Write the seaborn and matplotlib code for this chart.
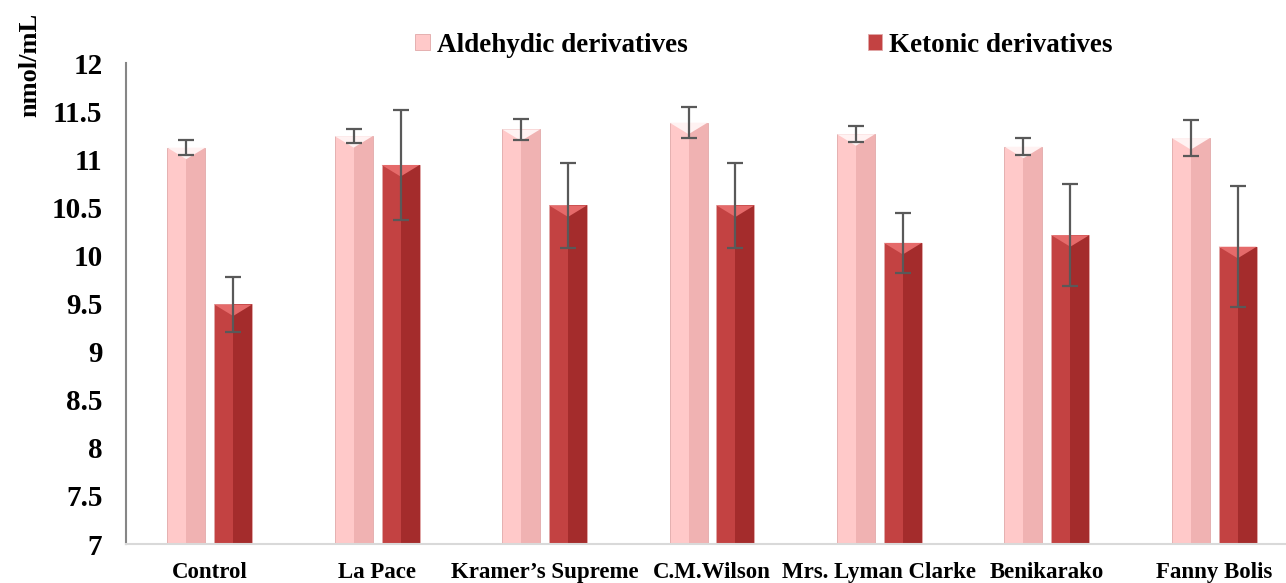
import numpy as np
import pandas as pd
import seaborn as sns
import matplotlib.pyplot as plt
from matplotlib.patches import Rectangle, Polygon

# data
groups = ["Control", "La Pace", "Kramer\u2019s Supreme", "C.M.Wilson",
          "Mrs. Lyman Clarke", "Benikarako", "Fanny Bolis"]
aldehydic = [11.12, 11.24, 11.31, 11.38, 11.26, 11.13, 11.22]
aldehydic_err = [0.075, 0.07, 0.11, 0.16, 0.08, 0.09, 0.19]
ketonic = [9.49, 10.94, 10.52, 10.52, 10.13, 10.21, 10.09]
ketonic_err = [0.29, 0.57, 0.44, 0.44, 0.31, 0.53, 0.63]
series = ["Aldehydic derivatives", "Ketonic derivatives"]
yticks = [7, 7.5, 8, 8.5, 9, 9.5, 10, 10.5, 11, 11.5, 12]

df = pd.DataFrame({
    "group": groups * 2,
    "series": [series[0]] * len(groups) + [series[1]] * len(groups),
    "value": aldehydic + ketonic,
})

sns.set_style("white")
plt.rcParams["font.family"] = ["Liberation Serif", "DejaVu Serif"]
plt.rcParams["font.weight"] = "bold"
plt.rcParams["text.color"] = "black"
plt.rcParams["xtick.color"] = "black"
plt.rcParams["ytick.color"] = "black"

face = {series[0]: "#FFC9C9", series[1]: "#C34242"}
shade = {series[0]: "#F0B2B2", series[1]: "#A42C2C"}
top = {series[0]: "#FFF2F2", series[1]: "#E56A6A"}

fig = plt.figure(figsize=(12.86, 5.83), dpi=100)
ax = fig.add_axes([126 / 1286, 39 / 583, 1172 / 1286, 481 / 583])

sns.barplot(data=df, x="group", y="value", hue="series", palette=face,
            saturation=1, width=0.56, gap=0.19, errorbar=None, ax=ax,
            zorder=2, edgecolor="#E0A8A8", linewidth=0.6)

# fake bevelled look: darker right half and a chevron at the top
errs = [aldehydic_err, ketonic_err]
for cont, name, err in zip(ax.containers, series, errs):
    xs, hs = [], []
    for p in cont.patches:
        x0, w, h = p.get_x(), p.get_width(), p.get_height()
        ax.add_patch(Rectangle((x0 + w / 2, 7), w / 2, h - 7,
                               color=shade[name], lw=0, zorder=2.1))
        d = 0.12
        ax.add_patch(Polygon([[x0, h], [x0 + w, h], [x0 + w / 2, h - d]],
                             closed=True, color=top[name], lw=0, zorder=2.2))
        xs.append(x0 + w / 2)
        hs.append(h)
    ax.errorbar(xs, hs, yerr=err, fmt="none", ecolor="#595959",
                elinewidth=1.6, capsize=6, capthick=1.6, zorder=3)

ax.set_ylim(7, 12)
ax.set_xlim(-0.5, 6.5)
ax.set_yticks(yticks)
ax.set_yticklabels([f"{t:g}" for t in yticks])
ax.set_xlabel("")
ax.set_ylabel("")
ax.tick_params(axis="y", length=0, pad=17, labelsize=21)
ax.tick_params(axis="x", length=0, pad=13, labelsize=16.5)

for s in ["top", "right"]:
    ax.spines[s].set_visible(False)
ax.spines["left"].set_color("#868686")
ax.spines["left"].set_linewidth(1.5)
ax.spines["bottom"].set_color("#D9D9D9")
ax.spines["bottom"].set_linewidth(1.5)

fig.text(0.023, 1 - 65 / 583, "nmol/mL", rotation=90, ha="center",
         va="center", fontsize=19, fontweight="bold")

handles, labels = ax.get_legend_handles_labels()
ax.legend(handles, labels, loc="center", bbox_to_anchor=(0.594, 1 - 45 / 583),
          bbox_transform=fig.transFigure, ncol=2, frameon=False,
          fontsize=19.5, handlelength=0.55, handleheight=0.55,
          handletextpad=0.25, columnspacing=6.65)

plt.savefig("out.png", dpi=100)
